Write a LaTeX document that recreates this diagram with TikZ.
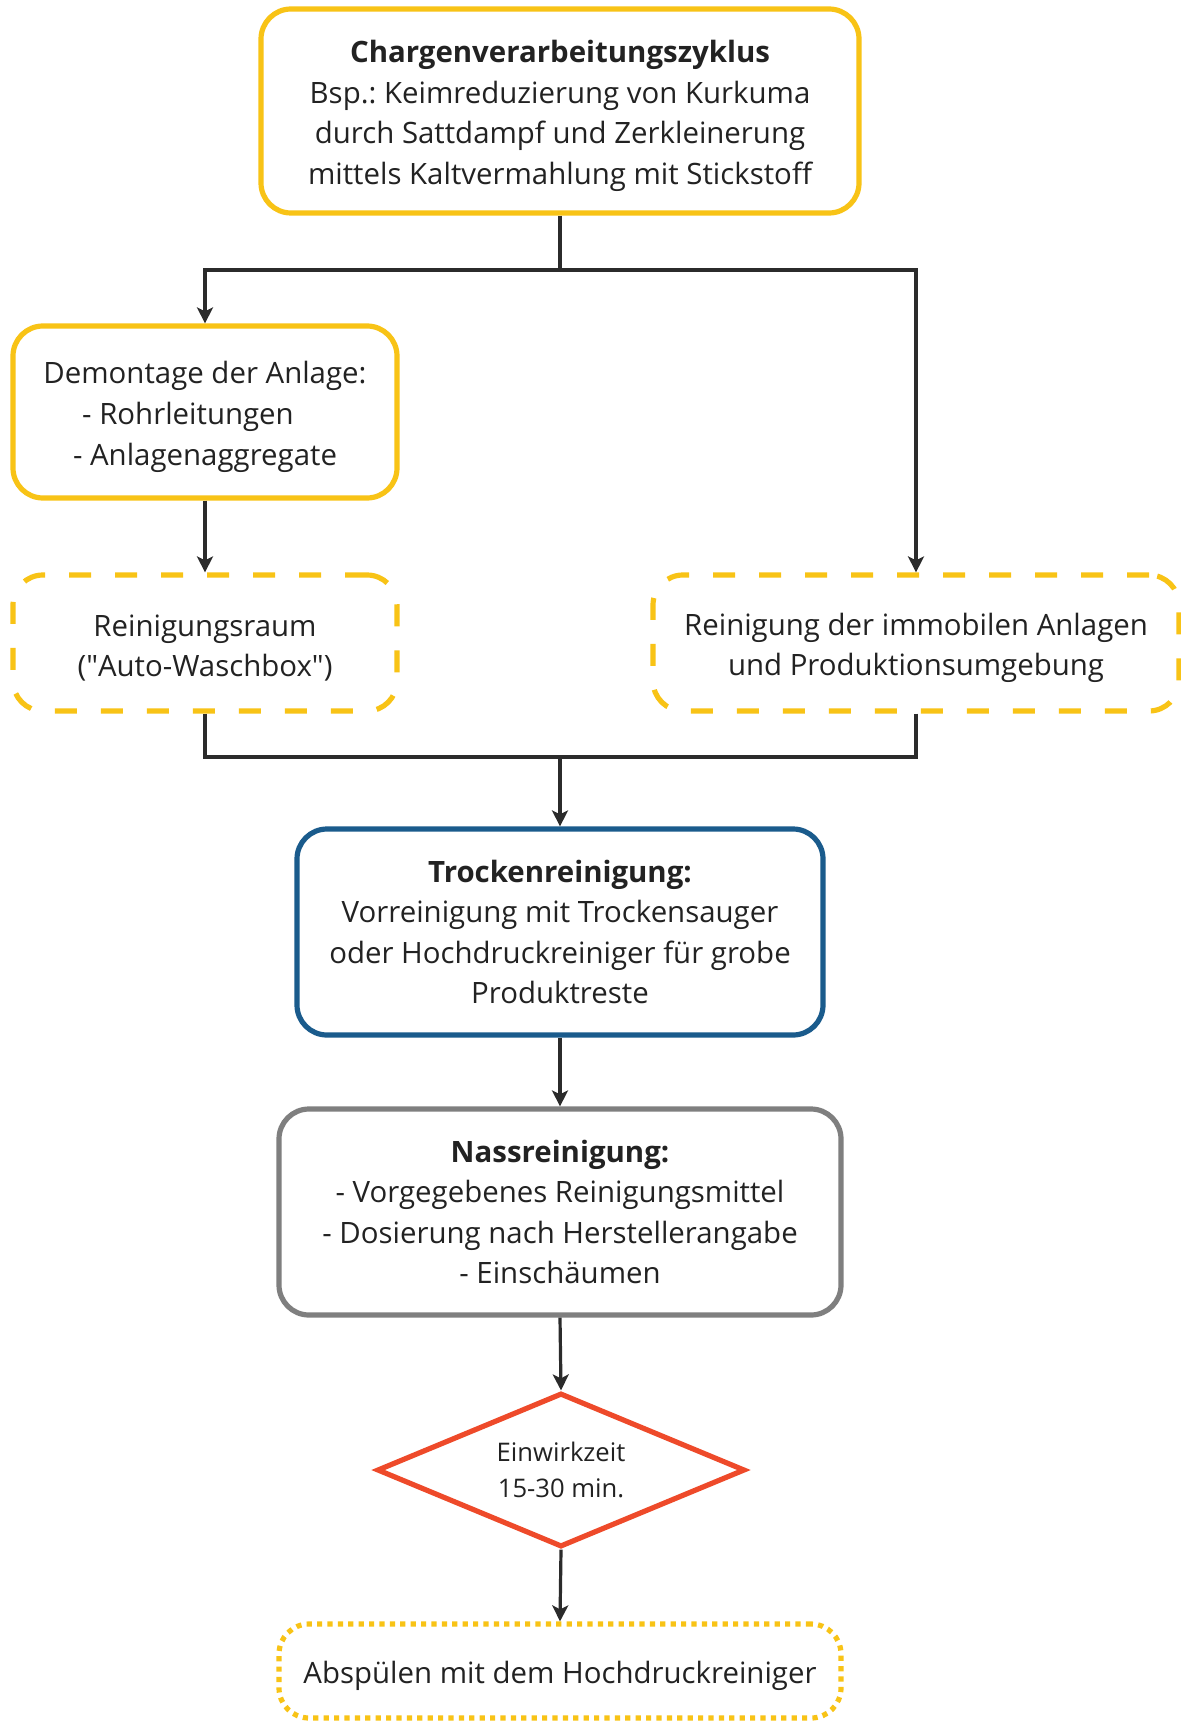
\documentclass[tikz,border=0pt]{standalone}
\usepackage{fontspec}
\setmainfont{Open Sans}
\newfontfamily\geradfont{Open Sans}
\usetikzlibrary{positioning,shapes.geometric,arrows.meta}
\frenchspacing

\definecolor{gelb}{HTML}{F8C316}
\definecolor{blau}{HTML}{1A5B8C}
\definecolor{grau}{HTML}{7F7F7F}
\definecolor{rot}{HTML}{EE4A2A}
\definecolor{linie}{HTML}{2B2B2B}
\definecolor{schrift}{HTML}{222222}
\newcommand{\oben}{\rule{0pt}{16pt}}

\begin{document}
\begin{tikzpicture}[x=0.5pt,y=-0.5pt]
                    \tikzstyle{every node}=[text=schrift,font=\fontsize{14.7}{20.3}\selectfont,align=center,inner sep=0]
                    \tikzstyle{box}=[rectangle,rounded corners=15pt,line width=2.6pt,fill=white]
                    \tikzstyle{voll}=[box,draw=gelb]
                    \tikzstyle{gestrichelt}=[box,draw=gelb,dash pattern=on 11pt off 12pt]
                    \tikzstyle{gepunktet}=[box,draw=gelb,dash pattern=on 2.6pt off 2.6pt]
                    \tikzstyle{raute}=[diamond,draw=rot,line width=2.6pt,fill=white,aspect=2.4,
                        font=\fontsize{12.8}{18}\selectfont]
                    \tikzstyle{pfeil}=[draw=linie,line width=1.6pt,-{Stealth[length=8pt,width=8pt,inset=2pt]}]
                    \tikzstyle{linie}=[draw=linie,line width=1.6pt]
                    \useasboundingbox (0,0) rectangle (1181,1722);
                    {
                        \node[voll,minimum width=299pt,minimum height=102pt] (zyklus) at (560,111)
                            {\oben\textbf{Chargenverarbeitungszyklus}\\Bsp.: Keimreduzierung von Kurkuma\\
                             durch Sattdampf und Zerkleinerung\\mittels Kaltvermahlung mit Stickstoff};

                        \node[voll,minimum width=192pt,minimum height=86pt] (demontage) at (205,412)
                            {\oben Demontage der Anlage:\\\mbox{- Rohrleitungen\hspace{17pt}}\\- Anlagenaggregate};
                        \node[gestrichelt,minimum width=192pt,minimum height=68pt] (raum) at (205,643)
                            {\oben Reinigungsraum\\({\geradfont"}Auto-Waschbox{\geradfont"})};
                        \node[gestrichelt,minimum width=263pt,minimum height=68pt] (immobil) at (916,643)
                            {\oben Reinigung der immobilen Anlagen\\und Produktionsumgebung};

                        \node[box,draw=blau,minimum width=263pt,minimum height=103pt] (trocken) at (560,932)
                            {\textbf{Trockenreinigung:}\\Vorreinigung mit Trockensauger\\
                             oder Hochdruckreiniger für grobe\\Produktreste};
                        \node[box,draw=grau,minimum width=281pt,minimum height=103pt] (nass) at (560,1212)
                            {\textbf{Nassreinigung:}\\- Vorgegebenes Reinigungsmittel\\
                             - Dosierung nach Herstellerangabe\\- Einschäumen};
                        \node[raute,minimum width=184pt,minimum height=77pt] (einwirk) at (561,1470)
                            {Einwirkzeit\\15-30 min.};
                        \node[gepunktet,minimum width=281pt,minimum height=47pt] (spuelen) at (560,1671)
                            {\oben Abspülen mit dem Hochdruckreiniger};

                        \coordinate (teilung) at (560,270);
                        \coordinate (zusammen) at (560,757);

                        \draw[linie] (zyklus.south) -- (teilung);
                        \draw[pfeil] (teilung) -| (demontage.north);
                        \draw[pfeil] (teilung) -| (immobil.north);
                        \draw[pfeil] (demontage.south) -- (raum.north);
                        \draw[linie] (raum.south) |- (zusammen);
                        \draw[linie] (immobil.south) |- (zusammen);
                        \draw[pfeil] (zusammen) -- (trocken.north);
                        \draw[pfeil] (trocken.south) -- (nass.north);
                        \draw[pfeil] (nass.south) -- (einwirk.north);
                        \draw[pfeil] (einwirk.south) -- (spuelen.north);
                    }
\end{tikzpicture}
\end{document}
